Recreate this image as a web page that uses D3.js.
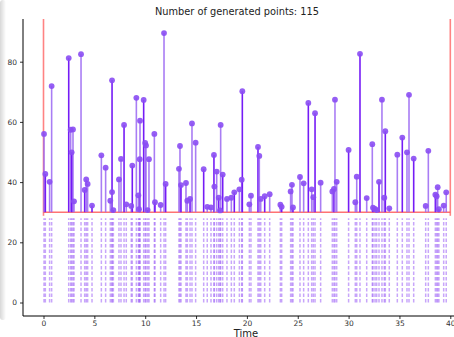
<!DOCTYPE html>
<html><head><meta charset="utf-8">
<script src="https://cdn.jsdelivr.net/npm/d3@7"></script>
<style>
html,body{margin:0;padding:0;background:#fff;overflow:hidden}
svg{display:block;font-family:"DejaVu Sans",sans-serif}
</style></head>
<body>
<script>
const title = "Number of generated points: 115";
const xLabel = "Time";
const xTicks = [0,5,10,15,20,25,30,35,40];
const yTicks = [0,20,40,60,80];
const baseline = 30;
const rugTop = 28;
const tMin = 0, tMax = 40;
const times = [0.05,0.18,0.6,0.8,2.48,2.67,2.9,2.77,3.0,3.69,4.05,4.2,4.34,4.77,5.69,6.11,6.74,6.57,6.74,6.87,
7.42,7.62,7.92,8.14,8.63,8.73,9.13,9.33,9.46,9.49,9.39,9.85,10.0,10.08,10.24,10.37,10.9,10.96,11.52,11.85,12.01,
13.32,13.42,13.52,14.01,14.14,14.41,14.6,14.96,15.75,16.1,16.47,16.76,16.8,17.03,17.23,17.42,17.36,17.62,18.04,
18.47,18.76,19.26,19.49,19.55,20.24,20.4,21.09,21.22,21.36,21.75,22.24,23.29,23.42,24.3,24.43,24.53,25.22,25.58,
26.04,26.37,26.53,26.7,27.25,28.4,28.56,28.66,28.83,30.0,30.66,30.8,31.12,31.78,32.33,32.4,32.6,32.76,32.99,33.28,
33.51,33.61,34.0,34.79,35.28,35.74,35.94,36.4,37.58,37.84,38.53,38.66,38.76,38.88,39.35,39.6];
const values = [56.0,42.7,40.1,71.9,81.2,57.4,57.5,49.9,33.6,82.5,37.4,40.9,39.4,32.2,48.9,44.8,73.8,33.8,36.7,30.7,
40.9,47.7,59.0,32.6,32.1,45.5,68.0,35.6,47.6,60.4,31.0,67.3,53.0,52.2,30.7,47.6,56.0,33.3,32.4,89.5,39.4,
44.4,52.0,39.0,39.7,33.8,34.4,59.5,53.1,44.3,31.8,31.6,49.0,38.5,43.5,34.8,59.0,30.6,42.5,34.4,
34.8,36.6,37.6,40.8,70.2,32.6,35.5,51.7,48.7,34.4,35.3,36.0,32.5,31.8,36.9,39.1,31.6,41.7,39.6,
66.3,37.6,35.0,62.9,39.8,36.9,37.7,67.4,40.1,50.7,33.3,41.8,82.6,34.7,52.6,31.5,31.1,30.7,40.1,67.4,
34.8,56.9,31.3,49.1,54.8,49.9,69.0,47.8,32.1,50.4,35.8,35.3,38.3,31.0,32.2,36.6];

(function(){
const W = 454, H = 337;
const svg = d3.select("body").append("svg").attr("width", W).attr("height", H);

const grad = svg.append("defs").append("linearGradient").attr("id","sh").attr("x1","0").attr("x2","1");
grad.append("stop").attr("offset","0").attr("stop-color","#d8d8d8");
grad.append("stop").attr("offset","1").attr("stop-color","#ffffff");
svg.append("rect").attr("x",0).attr("y",0).attr("width",6).attr("height",320).attr("rx",3).attr("fill","url(#sh)");

const x = d3.scaleLinear().domain([0, 40]).range([43.5, 450.3]);
const y = d3.scaleLinear().domain([0, 80]).range([302.5, 61.7]);
const leftX = 23, topY = 19, bottomY = 316;

const data = times.map((t,i)=>({t, v: values[i], i}));

svg.append("g").selectAll("line").data(data).join("line")
  .attr("x1", d=>x(d.t)).attr("x2", d=>x(d.t))
  .attr("y1", y(0)).attr("y2", y(rugTop))
  .attr("stroke", "#9b5cf6").attr("stroke-opacity", 0.55)
  .attr("stroke-width", 1.5).attr("stroke-dasharray", "3.5,2");

const red = "#ff5a5a";
svg.append("line").attr("x1", x(tMin)).attr("x2", x(tMax)).attr("y1", y(baseline)).attr("y2", y(baseline))
  .attr("stroke", red).attr("stroke-opacity", 0.85).attr("stroke-width", 1.6);
[tMin, tMax].forEach(t => {
  svg.append("line").attr("x1", x(t)).attr("x2", x(t)).attr("y1", y(rugTop + 0.8)).attr("y2", topY)
    .attr("stroke", red).attr("stroke-opacity", 0.75).attr("stroke-width", 1.6);
});

svg.append("g").selectAll("line").data(data).join("line")
  .attr("x1", d=>x(d.t)).attr("x2", d=>x(d.t))
  .attr("y1", y(baseline)).attr("y2", d=>y(d.v))
  .attr("stroke", d => d.i % 3 === 1 ? "#6e10f5" : "#9a66f2")
  .attr("stroke-opacity", d => d.i % 3 === 1 ? 0.95 : 0.85)
  .attr("stroke-width", 1.6);

svg.append("g").selectAll("circle").data(data).join("circle")
  .attr("cx", d=>x(d.t)).attr("cy", d=>y(d.v)).attr("r", 2.9)
  .attr("fill", "#8a4cf3").attr("fill-opacity", 0.9);

const yAxis = d3.axisLeft(y).tickValues(yTicks).tickSize(3).tickPadding(3);
const gy = svg.append("g").attr("transform", `translate(${leftX},0)`).call(yAxis);
gy.select(".domain").remove();
svg.append("line").attr("x1", leftX).attr("x2", leftX).attr("y1", topY).attr("y2", bottomY)
  .attr("stroke", "#000").attr("stroke-width", 1);

const xAxis = d3.axisBottom(x).tickValues(xTicks).tickSize(3).tickPadding(1.5);
const gx = svg.append("g").attr("transform", `translate(0,${bottomY})`).call(xAxis);
gx.select(".domain").remove();
svg.append("line").attr("x1", leftX).attr("x2", W).attr("y1", bottomY).attr("y2", bottomY)
  .attr("stroke", "#000").attr("stroke-width", 1);

[gx, gy].forEach(g => {
  g.selectAll("text").attr("font-size", 7.5).attr("fill", "#333").attr("font-family", "DejaVu Sans, sans-serif");
  g.selectAll(".tick line").attr("stroke", "#333");
});

svg.append("text").attr("x", 237).attr("y", 15).attr("text-anchor", "middle")
  .attr("font-size", 9.8).attr("fill", "#222").text(title);
svg.append("text").attr("x", 246).attr("y", 336.5).attr("text-anchor", "middle")
  .attr("font-size", 10).attr("fill", "#222").text(xLabel);
})();
</script>
</body></html>
